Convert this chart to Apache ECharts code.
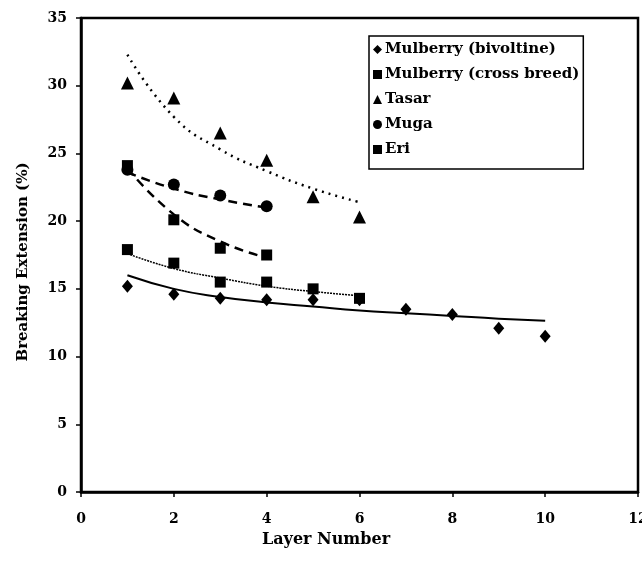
<!DOCTYPE html>
<html><head><meta charset="utf-8">
<script src="https://cdn.jsdelivr.net/npm/echarts@6/dist/echarts.min.js"></script>
<style>html,body{margin:0;padding:0;background:#fff}#c{width:642px;height:564px}</style>
</head><body><div id="c"></div>
<script>
// Data
const xTicks = [0, 2, 4, 6, 8, 10, 12];
const yTicks = [0, 5, 10, 15, 20, 25, 30, 35];
const seriesNames = ['Mulberry (bivoltine)', 'Mulberry (cross breed)', 'Tasar', 'Muga', 'Eri'];
const xTitle = 'Layer Number';
const yTitle = 'Breaking Extension (%)';

const bivoltineX = [1, 2, 3, 4, 5, 6, 7, 8, 9, 10];
const bivoltineY = [15.2, 14.6, 14.3, 14.2, 14.2, 14.2, 13.5, 13.1, 12.1, 11.5];
const bivoltineTrend = [16.0, 15.0, 14.4, 14.0, 13.7, 13.4, 13.2, 13.0, 12.8, 12.65];

const crossX = [1, 2, 3, 4, 5, 6];
const crossY = [17.9, 16.9, 15.5, 15.5, 15.0, 14.3];
const crossTrend = [17.6, 16.5, 15.8, 15.2, 14.8, 14.5];

const tasarX = [1, 2, 3, 4, 5, 6];
const tasarY = [30.2, 29.1, 26.5, 24.5, 21.8, 20.3];
const tasarTrend = [32.3, 27.7, 25.3, 23.7, 22.4, 21.4];

const mugaX = [1, 2, 3, 4];
const mugaY = [23.8, 22.7, 21.9, 21.1];
const mugaTrend = [23.6, 22.4, 21.6, 21.0];

const eriX = [1, 2, 3, 4];
const eriY = [24.1, 20.1, 18.0, 17.5];
const eriTrend = [23.9, 20.5, 18.5, 17.3];

const pairs = (xs, ys) => xs.map((x, i) => [x, ys[i]]);
const font = 'DejaVu Serif';

function scatter(name, xs, ys, symbol, size) {
  return { name, type: 'scatter', data: pairs(xs, ys), symbol, symbolSize: size,
    itemStyle: { color: '#000', opacity: 1 }, z: 3 };
}
function trend(xs, ys, type, width) {
  return { type: 'line', data: pairs(xs, ys), smooth: true, showSymbol: false, symbol: 'none',
    lineStyle: { color: '#000', width, type }, z: 2, silent: true };
}

const chart = echarts.init(document.getElementById('c'));
chart.setOption({
  animation: false,
  backgroundColor: '#fff',
  grid: { left: 81, right: 4, top: 18, bottom: 72, show: true, borderColor: '#000', borderWidth: 2.5,
    containLabel: false, outerBoundsMode: 'none' },
  graphic: [
    { type: 'text', left: 262, top: 532,
      style: { text: xTitle, font: 'bold 16px "DejaVu Serif"', fill: '#000' } },
    { type: 'text', x: 16, y: 262, rotation: Math.PI / 2,
      style: { text: yTitle, font: 'bold 15px "DejaVu Serif"', fill: '#000', align: 'center', verticalAlign: 'top' } }
  ],
  xAxis: {
    type: 'value', min: 0, max: 12, interval: 2,
    axisLine: { lineStyle: { color: '#000', width: 2.5 } },
    axisTick: { show: true, length: 5, lineStyle: { color: '#000', width: 1.5 } },
    axisLabel: { fontFamily: font, fontWeight: 'bold', fontSize: 14, color: '#000', margin: 20,
      hideOverlap: false, showMaxLabel: true, showMinLabel: true,
      formatter: v => xTicks.includes(v) ? String(v) : '' },
    splitLine: { show: false }
  },
  yAxis: {
    type: 'value', min: 0, max: 35, interval: 5,
    axisLine: { show: true, lineStyle: { color: '#000', width: 2.5 } },
    axisTick: { show: true, length: 5, lineStyle: { color: '#000', width: 1.5 } },
    axisLabel: { fontFamily: font, fontWeight: 'bold', fontSize: 14, color: '#000', margin: 14,
      formatter: v => yTicks.includes(v) ? String(v) : '' },
    splitLine: { show: false }
  },
  legend: {
    orient: 'vertical', left: 369, top: 36,
    data: seriesNames,
    backgroundColor: '#fff', borderColor: '#000', borderWidth: 1.5, borderRadius: 0,
    padding: [6, 4, 12, 4], itemGap: 10, itemWidth: 9, itemHeight: 9,
    textStyle: { fontFamily: font, fontWeight: 'bold', fontSize: 15, color: '#000', padding: [0, 0, 0, -2] }
  },
  series: [
    trend(bivoltineX, bivoltineTrend, 'solid', 2),
    trend(crossX, crossTrend, [2, 1], 1.5),
    trend(tasarX, tasarTrend, [2, 5], 2.5),
    trend(mugaX, mugaTrend, [9, 6], 2.5),
    trend(eriX, eriTrend, [9, 6], 2.5),
    scatter(seriesNames[0], bivoltineX, bivoltineY, 'diamond', [11, 13]),
    scatter(seriesNames[1], crossX, crossY, 'rect', 11),
    scatter(seriesNames[2], tasarX, tasarY, 'triangle', 13),
    scatter(seriesNames[3], mugaX, mugaY, 'circle', 12),
    scatter(seriesNames[4], eriX, eriY, 'rect', 11)
  ]
});
</script></body></html>
